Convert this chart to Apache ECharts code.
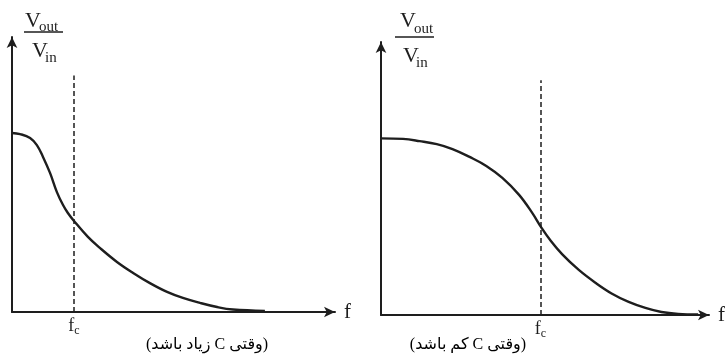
<!DOCTYPE html>
<html>
<head>
<meta charset="utf-8">
<script src="https://cdn.jsdelivr.net/npm/echarts@6/dist/echarts.min.js"></script>
<style>
html,body{margin:0;padding:0;background:#fff;}
#chart{width:728px;height:354px;direction:ltr;}
</style>
</head>
<body>
<div id="chart"></div>
<script>
// Left panel: large C (normalized frequency 0..100, normalized gain 0..1)
const freqLeft = [0, 2.5, 5.6, 7.7, 9.6, 11.8, 13.9, 15.8, 17.3, 19.2, 23.5, 27.2, 32.5, 37.5, 42.7, 48, 52.9, 58.2, 63.5, 68.4, 78.3];
const gainLeft = [0.651, 0.647, 0.633, 0.607, 0.564, 0.505, 0.436, 0.389, 0.36, 0.331, 0.273, 0.233, 0.182, 0.142, 0.105, 0.073, 0.051, 0.033, 0.018, 0.009, 0.004];
const fcLeft = 19.2;

// Right panel: small C
const freqRight = [0, 6.7, 11.8, 17, 21.8, 27, 32.1, 37, 42.1, 46.1, 48.8, 51.8, 55.2, 60.3, 65.5, 70.3, 75.5, 80.6, 85.5, 90.6, 96.7];
const gainRight = [0.647, 0.645, 0.637, 0.626, 0.608, 0.579, 0.546, 0.502, 0.44, 0.374, 0.322, 0.271, 0.223, 0.165, 0.117, 0.079, 0.048, 0.026, 0.011, 0.004, 0.002];
const fcRight = 48.6;

const dashTop = 0.86;
// Captions, words in reading (logical) order
const captionLeftWords = ['وقتی', 'C', 'زیاد', 'باشد'];
const captionRightWords = ['وقتی', 'C', 'کم', 'باشد'];
const axisName = 'f';

const INK = '#1e1e1e';
const SERIF = '"Liberation Serif", "DejaVu Serif", serif';

function xAxisFor(idx, fc) {
  return {
    type: 'value', gridIndex: idx, min: 0, max: 100,
    name: axisName, nameLocation: 'end', nameGap: 9,
    nameTextStyle: { fontFamily: SERIF, fontSize: 21, color: INK, verticalAlign: 'middle' },
    axisLine: { show: true, symbol: ['none', 'arrow'], symbolSize: [8, 11], lineStyle: { color: INK, width: 2 } },
    axisTick: { show: false }, splitLine: { show: false },
    axisLabel: {
      show: true, customValues: [fc], margin: 4,
      formatter: function () { return '{f|f}{c|c}'; },
      rich: {
        f: { fontFamily: SERIF, fontSize: 18, color: INK },
        c: { fontFamily: SERIF, fontSize: 12, color: INK, padding: [9, 0, 0, 0] }
      }
    }
  };
}
function yAxisFor(idx) {
  return {
    type: 'value', gridIndex: idx, min: 0, max: 1,
    axisLine: { show: true, symbol: ['none', 'arrow'], symbolSize: [8, 11], lineStyle: { color: INK, width: 2 } },
    axisTick: { show: false }, axisLabel: { show: false }, splitLine: { show: false }
  };
}
function pairs(xs, ys) { return xs.map((x, i) => [x, ys[i]]); }
function curve(idx, xs, ys, fc) {
  return {
    type: 'line', xAxisIndex: idx, yAxisIndex: idx,
    data: pairs(xs, ys), symbol: 'none', smooth: 0.4,
    lineStyle: { color: INK, width: 2.4 },
    markLine: {
      silent: true, symbol: 'none', label: { show: false },
      lineStyle: { color: INK, width: 1.5, type: [5, 3] },
      data: [[{ coord: [fc, 0] }, { coord: [fc, dashTop] }]]
    },
    animation: false
  };
}
function txt(x, y, text, size) {
  return { type: 'text', x: x, y: y, style: { text: text, font: size + 'px ' + SERIF, fill: INK, verticalAlign: 'middle', align: 'left' } };
}
function caption(x, words) {
  // right-to-left sentence: lay the words out from right to left, one token each
  const tokens = ['('];
  words.slice().reverse().forEach((w, i) => { if (i) tokens.push(' '); tokens.push(w); });
  tokens.push(')');
  return {
    type: 'text', x: x, y: 345,
    style: {
      text: tokens.map(t => '{w|' + t + '}').join(''), align: 'center', verticalAlign: 'middle',
      rich: { w: { fontFamily: '"Liberation Serif", "DejaVu Sans", serif', fontSize: 16, color: INK } }
    }
  };
}

const chart = echarts.init(document.getElementById('chart'), null, { renderer: 'canvas' });
chart.setOption({
  backgroundColor: '#fff', animation: false,
  grid: [
    { left: 12, top: 37, width: 323, height: 275 },
    { left: 381, top: 42, width: 330, height: 273 }
  ],
  xAxis: [xAxisFor(0, fcLeft), xAxisFor(1, fcRight)],
  yAxis: [yAxisFor(0), yAxisFor(1)],
  series: [curve(0, freqLeft, gainLeft, fcLeft), curve(1, freqRight, gainRight, fcRight)],
  graphic: [
    txt(25, 21, 'V', 22), txt(39, 27, 'out', 15),
    { type: 'line', shape: { x1: 24, y1: 32, x2: 63, y2: 32 }, style: { stroke: INK, lineWidth: 1.5 } },
    txt(32, 51, 'V', 22), txt(45, 58, 'in', 15),
    txt(400, 21, 'V', 22), txt(414, 29, 'out', 15),
    { type: 'line', shape: { x1: 395, y1: 37, x2: 434, y2: 37 }, style: { stroke: INK, lineWidth: 1.5 } },
    txt(403, 56, 'V', 22), txt(416, 63, 'in', 15),
    caption(207, captionLeftWords),
    caption(468, captionRightWords)
  ]
});
</script>
</body>
</html>
